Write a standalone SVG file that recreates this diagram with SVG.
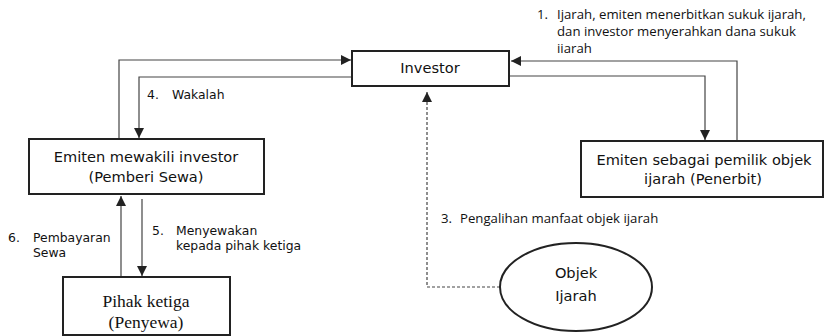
<svg xmlns="http://www.w3.org/2000/svg" width="826" height="336" viewBox="0 0 826 336">
  <style>
    .box { fill: #ffffff; stroke: #222222; stroke-width: 2; }
    .line { fill: none; stroke: #444444; stroke-width: 1.2; }
    .dash { fill: none; stroke: #444444; stroke-width: 1.2; stroke-dasharray: 3 2; }
    .node { font-family: "DejaVu Sans", sans-serif; font-size: 14.6px; fill: #111111; text-anchor: middle; }
    .serif { font-family: "Liberation Serif", serif; font-size: 17.5px; fill: #111111; text-anchor: middle; }
    .lbl { font-family: "DejaVu Sans", sans-serif; font-size: 12.4px; fill: #111111; }
    .note { font-family: "Open Sans", sans-serif; font-size: 13.2px; fill: #111111; }
  </style>
  <defs>
    <marker id="arrow" viewBox="0 0 10 10" refX="10" refY="5" markerWidth="10" markerHeight="10" markerUnits="userSpaceOnUse" orient="auto">
      <path d="M0,0 L10,5 L0,10 Z" fill="#222222"/>
    </marker>
  </defs>

  <rect width="826" height="336" fill="#ffffff"/>

  <!-- connectors -->
  <g id="connectors">
    <!-- 1: investor <-> penerbit -->
    <path class="line" d="M737,141 V61 H511" marker-end="url(#arrow)"/>
    <path class="line" d="M509,76 H705 V140" marker-end="url(#arrow)"/>
    <!-- 4: wakalah -->
    <path class="line" d="M352,77 H139 V138" marker-end="url(#arrow)"/>
    <path class="line" d="M119,138 V60 H351" marker-end="url(#arrow)"/>
    <!-- 5 / 6: sewa -->
    <path class="line" d="M142,199 V276" marker-end="url(#arrow)"/>
    <path class="line" d="M121,277 V196" marker-end="url(#arrow)"/>
    <!-- 3: manfaat objek -->
    <path class="dash" d="M500,287 H427 V92" marker-end="url(#arrow)"/>
  </g>

  <g id="investor">
    <rect class="box" x="352" y="51" width="157" height="35"/>
    <text class="node" x="430" y="73">Investor</text>
  </g>

  <g id="pemberi-sewa">
    <rect class="box" x="29" y="139" width="235" height="55"/>
    <text class="node" x="146" y="162">Emiten mewakili investor</text>
    <text class="node" x="146" y="182">(Pemberi Sewa)</text>
  </g>

  <g id="penerbit">
    <rect class="box" x="581" y="141" width="242" height="56"/>
    <text class="node" x="704" y="165">Emiten sebagai pemilik objek</text>
    <text class="node" x="703" y="184">ijarah (Penerbit)</text>
  </g>

  <g id="penyewa">
    <rect class="box" x="63" y="277" width="167" height="58"/>
    <text class="serif" x="146" y="307">Pihak ketiga</text>
    <text class="serif" x="146" y="328">(Penyewa)</text>
  </g>

  <g id="objek-ijarah">
    <ellipse class="box" cx="576" cy="287" rx="76" ry="44" stroke-width="1.6"/>
    <text class="node" x="576" y="278" font-size="17">Objek</text>
    <text class="node" x="576" y="301" font-size="17">Ijarah</text>
  </g>

  <!-- step labels -->
  <g id="labels">
    <text class="note" x="537" y="19">1.</text>
    <text class="note" x="557" y="19">Ijarah, emiten menerbitkan sukuk ijarah,</text>
    <text class="note" x="557" y="36">dan investor menyerahkan dana sukuk</text>
    <text class="note" x="557" y="53">iiarah</text>

    <text class="note" x="441" y="223">3.</text>
    <text class="note" x="460" y="223">Pengalihan manfaat objek ijarah</text>

    <text class="lbl" x="147" y="99">4.</text>
    <text class="lbl" x="172" y="99">Wakalah</text>

    <text class="lbl" x="152" y="235">5.</text>
    <text class="lbl" x="176" y="235">Menyewakan</text>
    <text class="lbl" x="176" y="250">kepada pihak ketiga</text>

    <text class="lbl" x="8" y="242">6.</text>
    <text class="lbl" x="33" y="242">Pembayaran</text>
    <text class="lbl" x="33" y="257">Sewa</text>
  </g>
</svg>
